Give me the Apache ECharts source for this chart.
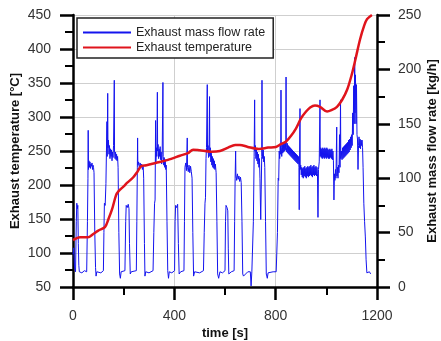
<!DOCTYPE html>
<html lang="en">

<head>
    <meta charset="UTF-8">
    <title>Exhaust temperature and mass flow</title>
    <script src="https://cdn.jsdelivr.net/npm/echarts@6/dist/echarts.min.js"></script>
    <style>
        html, body { margin: 0; padding: 0; background: #fff; }
    </style>
</head>

<body>
    <div id="main" style="width:441px;height:341px;"></div>

    <script>
        // tick labels
        let timeTicks = [0, 400, 800, 1200];
        let tempTicks = [50, 100, 150, 200, 250, 300, 350, 400, 450];
        let flowTicks = [0, 50, 100, 150, 200, 250];

        // exhaust mass flow rate [kg/h] vs time [s]
        let flowStart = [[0,30],[3,36],[6,18],[10,14],[13,60],[15,77],[17,72],[19,75],[21,40],[23,20],[25,14],[35,13],[45,15],[54,14],
            [57,60],[59,100],[60,144],[61,108],[63,116],[65,110],[67,115],[69,109],[71,113],[73,111],[75,114],[77,108],[79,112],[81,110],[83,105],[86,50],[89,18],[91,10],[94,14],[110,13],
            [120,15],[122,50],[124,77],[127,75],[130,95],[132,125],[134,152],[135,120],[137,178],[138,128],[140,135],[142,122],[144,130],[146,118],[148,127],[150,120],[152,126],[154,116],[156,124],[158,119],[160,130],[163,190],[164,125],[166,118],[168,124],[170,117],[172,122],[174,116],[176,120],[178,110],[181,50],[184,12],[187,8],[190,14]];
        let flowCycle2 = [[205,15],[208,60],[210,75],[214,73],[218,76],[221,72],[223,40],[226,12],[230,14],
            [250,15],[252,60],[254,110],[255,137],[256,112],[259,115],[262,109],[265,114],[268,110],[271,113],[274,108],[277,111],[279,100],[282,40],[284,10],[287,14],[300,13],
            [316,15],[319,50],[322,77],[324,80],[326,153],[327,115],[329,128],[331,120],[333,179],[334,125],[336,131],[338,118],[340,127],[342,120],[344,129],[346,117],[348,124],[350,113],[352,122],[355,188],[356,120],[358,112],[360,119],[362,110],[364,117],[366,108],[368,112],[371,60],[374,15],[377,8],[380,14],[390,13]];
        let flowCycle3 = [[401,15],[403,60],[405,75],[409,73],[413,76],[416,40],[419,12],[425,14],
            [438,15],[440,60],[442,110],[445,114],[448,107],[451,137],[452,110],[455,106],[458,112],[461,105],[464,111],[467,106],[470,100],[473,50],[476,10],[480,14],[500,13],
            [515,15],[518,50],[521,77],[523,82],[525,118],[527,128],[530,186],[531,124],[533,130],[535,119],[537,126],[539,175],[540,120],[542,128],[544,115],[546,123],[548,112],[550,120],[552,110],[554,118],[556,109],[558,116],[560,108],[562,113],[565,105],[568,60],[571,12],[575,8],[580,14],[590,13]];
        let flowCycle4 = [[600,15],[602,60],[604,75],[608,73],[611,70],[613,35],[615,12],[625,14],
            [636,15],[638,60],[640,100],[642,125],[643,103],[646,98],[649,104],[652,99],[655,102],[658,97],[661,101],[664,96],[667,60],[670,12],[673,10],[690,14],[700,14],[703,1],[706,14],
            [709,15],[712,60],[715,120],[717,172],[718,125],[720,130],[722,118],[724,127],[726,116],[728,124],[730,113],[732,122],[734,110],[736,118],[738,100],[741,62],[743,90],[745,120],[746,190],[747,125],[749,118],[751,126],[753,115],[755,120],[757,110],[760,60],[763,12],[767,8],[770,13],[790,14],[802,14]];
        let flowExtraUrban = [[804,15],[807,50],[810,100],[812,98],[814,125],[816,118],[818,130],[820,122],[821,181],[822,128],[824,120],[826,131],[828,123],[830,133],[832,124],[834,132],[836,125],[838,133],[840,126],[841,193],[842,128],[844,124],[846,132],[848,123],[850,130],[852,122],[854,129],[856,121],[858,128],[860,120],[862,127],[864,119],[866,126],[868,118],[870,125],[872,117],[874,124],[876,116],[878,123],[880,115],[882,122],[884,114],[886,121],[888,113],[890,120],[892,110],[893,71],[894,112],[896,164],[897,108],[899,112],
            [901,103],[903,110],[905,101],[907,109],[909,100],[911,110],[913,102],[915,111],[917,101],[919,109],[921,100],[923,110],[925,102],[927,111],[929,101],[931,110],[933,102],[935,111],[937,103],[939,112],[941,102],[943,110],[945,101],[947,111],[949,103],[951,112],[953,102],[955,110],[957,103],[959,111],[961,102],[963,110],[965,104],[967,64],[969,108],[972,115],[975,172],[976,120],[978,128],
            [980,119],[982,127],[984,118],[986,128],[988,119],[990,127],[992,118],[994,128],[996,119],[998,127],[1000,118],[1002,128],[1004,119],[1006,127],[1008,118],[1010,126],[1012,118],[1014,127],[1016,119],[1018,126],[1020,118],[1022,127],[1024,117],[1026,125],[1028,116],[1030,80],[1032,104],[1034,98],[1036,108],[1038,100],[1041,147],[1042,102],[1044,110],[1046,100],[1048,112],[1050,105],[1052,140],[1054,110],[1056,172],[1057,118],[1059,125],
            [1062,117],[1064,128],[1066,118],[1068,129],[1070,119],[1072,130],[1074,120],[1076,131],[1078,121],[1080,132],[1082,122],[1084,133],[1086,123],[1088,135],[1090,124],[1092,136],[1094,126],[1096,138],[1098,128],[1100,140],[1102,130],[1104,160],[1106,140],[1108,185],[1110,150],[1112,211],[1113,160],[1115,195],[1117,150],[1119,186],[1121,140],[1123,136],[1125,108],[1127,130],[1129,138],[1131,128],[1133,136],[1135,127],[1137,135],[1139,130],[1141,135],[1143,128],
            [1145,110],[1148,77],[1151,60],[1154,46],[1157,25],[1160,13],[1165,12],[1170,14],[1175,12]];

        // exhaust temperature [°C] vs time [s]
        let tempData = [[0,119],[10,121],[28,123],[59,123],[80,128],[100,133],[126,138],[140,150],[154,164],[170,185],[180,191],[200,198],[213,203],[237,211],[255,220],[270,228],[290,229],[332,233],[375,237],[422,243],[454,247],[474,252],[500,251],[545,249],[580,250],[612,255],[640,259],[659,259],[690,256],[734,253],[770,255],[801,256],[820,260],[841,264],[860,272],[880,283],[900,298],[920,308],[936,314],[955,317],[975,315],[1003,308],[1020,310],[1042,315],[1062,325],[1082,340],[1100,362],[1115,385],[1133,414],[1150,435],[1161,444],[1180,450]];

        let flowData = flowStart.concat(flowCycle2, flowCycle3, flowCycle4, flowExtraUrban);

        let font = "'Liberation Sans', Arial, sans-serif";
        let axisLine = { show: true, onZero: false, lineStyle: { color: '#000', width: 2.5 } };
        let tick = { show: true, length: 13, lineStyle: { color: '#000', width: 2.5 } };
        let minor = { show: true, splitNumber: 2, length: 8, lineStyle: { color: '#000', width: 2 } };
        let nameStyle = { fontFamily: font, fontSize: 13, fontWeight: 'bold', color: '#111' };
        let plain = function (v) { return String(v); };

        let chart = echarts.init(document.getElementById('main'));
        chart.setOption({
            animation: false,
            backgroundColor: '#fff',
            grid: { left: 73, right: 64, top: 15, bottom: 54, containLabel: false, outerBoundsMode: 'none' },
            legend: {
                left: 77,
                top: 18,
                orient: 'vertical',
                itemWidth: 48,
                itemHeight: 12,
                itemGap: 2,
                padding: [8, 8, 4, 5],
                borderColor: '#222',
                borderWidth: 1.5,
                backgroundColor: '#fff',
                itemStyle: { opacity: 0 },
                textStyle: { fontFamily: font, fontSize: 12.5, color: '#222' },
                data: ['Exhaust mass flow rate', 'Exhaust temperature']
            },
            xAxis: {
                type: 'value',
                min: timeTicks[0],
                max: timeTicks[timeTicks.length - 1],
                interval: 400,
                name: 'time [s]',
                nameLocation: 'middle',
                nameGap: 40,
                nameMoveOverlap: false,
                nameTextStyle: nameStyle,
                axisLine: axisLine,
                axisTick: tick,
                minorTick: minor,
                axisLabel: { margin: 22, fontFamily: font, fontSize: 14, color: '#333', formatter: plain },
                splitLine: { show: true, lineStyle: { color: '#cfcfcf', width: 1 } }
            },
            yAxis: [{
                type: 'value',
                position: 'left',
                min: tempTicks[0],
                max: tempTicks[tempTicks.length - 1],
                interval: 50,
                name: 'Exhaust temperature [°C]',
                nameLocation: 'middle',
                nameRotate: 90,
                nameGap: 51,
                nameMoveOverlap: false,
                nameTextStyle: nameStyle,
                axisLine: axisLine,
                axisTick: tick,
                minorTick: minor,
                axisLabel: { margin: 22, fontFamily: font, fontSize: 14, color: '#333', formatter: plain },
                splitLine: { show: true, lineStyle: { color: '#cfcfcf', width: 1 } }
            }, {
                type: 'value',
                position: 'right',
                min: flowTicks[0],
                max: flowTicks[flowTicks.length - 1],
                interval: 50,
                name: 'Exhaust mass flow rate [kg/h]',
                nameLocation: 'middle',
                nameRotate: 90,
                nameGap: 49,
                nameMoveOverlap: false,
                nameTextStyle: nameStyle,
                axisLine: axisLine,
                axisTick: tick,
                minorTick: minor,
                axisLabel: { margin: 21, fontFamily: font, fontSize: 14, color: '#333', formatter: plain },
                splitLine: { show: false }
            }],
            series: [{
                name: 'Exhaust mass flow rate',
                type: 'line',
                yAxisIndex: 1,
                data: flowData,
                symbol: 'none',
                lineStyle: { color: '#1414ee', width: 1 },
                itemStyle: { color: '#1414ee' }
            }, {
                name: 'Exhaust temperature',
                type: 'line',
                yAxisIndex: 0,
                data: tempData,
                smooth: 0.3,
                symbol: 'none',
                lineStyle: { color: '#e0141c', width: 2.5 },
                itemStyle: { color: '#e0141c' },
                z: 3
            }]
        });
    </script>
</body>

</html>
